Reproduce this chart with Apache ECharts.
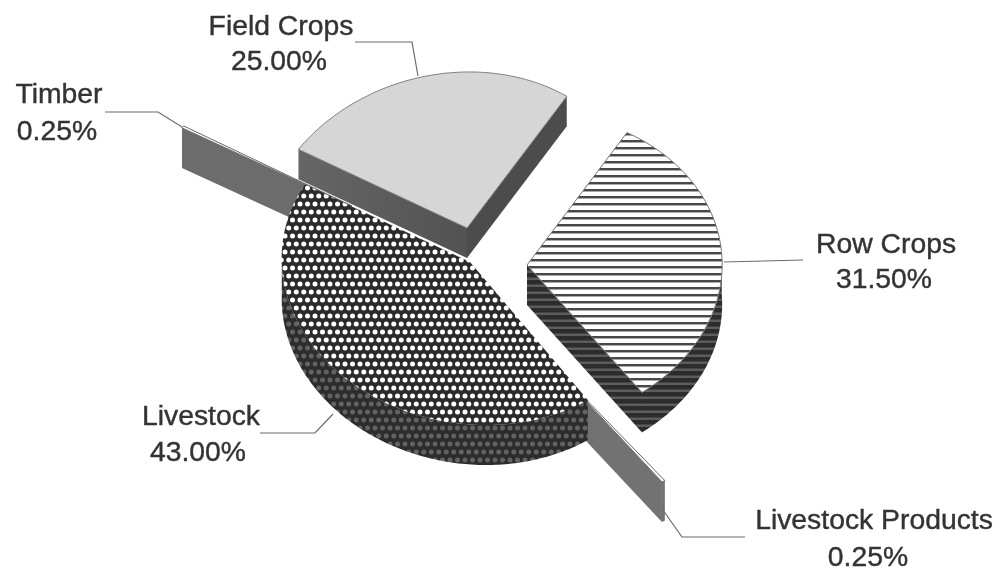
<!DOCTYPE html>
<html>
<head>
<meta charset="utf-8">
<style>html,body{margin:0;padding:0;background:#fff}#c{width:1002px;height:574px}</style>
<script src="https://cdn.jsdelivr.net/npm/echarts@6/dist/echarts.min.js"></script>
</head>
<body>
<div id="c"></div>
<script>
// ---- data ----
const categories = ['Field Crops', 'Timber', 'Livestock', 'Livestock Products', 'Row Crops'];
const shares = [25.00, 0.25, 43.00, 0.25, 31.50];

// ---- presentation ----
const START_ANGLE = 57;
const drawOrder = ['Timber', 'Livestock Products', 'Livestock', 'Field Crops', 'Row Crops'];

function tile(w, h, paint) {
  const cv = document.createElement('canvas');
  cv.width = w; cv.height = h;
  paint(cv.getContext('2d'));
  return { image: cv, repeat: 'repeat' };
}
function dots(bg, fg, r) {
  return tile(15, 16, g => {
    g.fillStyle = bg; g.fillRect(0, 0, 15, 16);
    g.fillStyle = fg;
    [[3.75, 4], [11.25, 4], [0, 12], [7.5, 12], [15, 12]].forEach(p => {
      g.beginPath(); g.arc(p[0], p[1], r, 0, Math.PI * 2); g.fill();
    });
  });
}
function stripes(bg, fg, mid, t) {
  return tile(4, 7, g => {
    g.fillStyle = bg; g.fillRect(0, 0, 4, 7);
    g.fillStyle = fg; g.fillRect(0, 0, 4, t);
    g.fillStyle = mid; g.fillRect(0, t, 4, 1);
  });
}
const wallGrad = (c0, c1) => ({ type: 'linear', x: 0, y: 0, x2: 1, y2: 0,
  colorStops: [{ offset: 0, color: c0 }, { offset: 1, color: c1 }] });
const look = {
  'Field Crops': { apex: [467, 228], c: [451, 235], m: [191, 14, -3.7, 163], depth: 30,
    top: '#d6d6d6', stroke: '#808080', startWall: '#4c4c4c',
    endWall: wallGrad('#666666', '#525252'), arcWall: '#555' },
  'Timber': { apex: [352, 206], c: [352, 206], m: [200.7, 0, 0, 147], depth: 40,
    top: '#fff', stroke: '#666', startWall: '#6c6c6c', endWall: '#6c6c6c', arcWall: '#6c6c6c' },
  'Livestock': { apex: [470, 262], c: [474, 268], m: [192, -12, 0, 157], depth: 40,
    top: dots('#2b2b2b', '#ffffff', 2.5), stroke: null,
    startWall: '#333', endWall: '#333', arcWall: dots('#2c2c2c', '#636363', 2.5) },
  'Livestock Products': { apex: [542, 354], c: [542, 354], m: [222, 0, 0, 152], depth: 40,
    top: '#fff', stroke: '#666', startWall: '#727272', endWall: '#727272', arcWall: '#727272' },
  'Row Crops': { apex: [527, 265], c: [528, 269], m: [194, -8, -11, 155.5], depth: 40,
    top: stripes('#ffffff', '#484848', '#aaaaaa', 2), stroke: '#777',
    startWall: stripes('#5c5c5c', '#2c2c2c', '#444444', 4), endWall: '#333',
    arcWall: stripes('#5c5c5c', '#2c2c2c', '#444444', 4) }
};
const labelAt = {
  'Field Crops': [[281, 27], [279, 62]],
  'Timber': [[59, 95], [57, 132]],
  'Livestock': [[201, 417], [198, 453]],
  'Livestock Products': [[874, 521], [868, 558]],
  'Row Crops': [[886, 245], [884, 280]]
};
const leaders = {
  'Field Crops': [[355, 42], [412, 42], [418, 76]],
  'Timber': [[105, 112], [158, 112], [182, 127]],
  'Livestock': [[260, 433], [315, 433], [333, 414]],
  'Livestock Products': [[663, 510], [682, 537], [745, 537]],
  'Row Crops': [[724, 262], [803, 260]]
};

// ---- slice angles from the values ----
const spans = {};
shares.reduce((from, s, i) => {
  const sweep = s / 100 * 360;
  spans[categories[i]] = [from, from + sweep];
  return from + sweep;
}, START_ANGLE);

function rim(l, deg) {
  const t = deg * Math.PI / 180, co = Math.cos(t), si = Math.sin(t);
  return [l.c[0] + l.m[0] * co + l.m[1] * si, l.c[1] + l.m[2] * co - l.m[3] * si];
}
const down = (p, d) => [p[0], p[1] + d];

function sliceShapes(name) {
  const l = look[name], [a, b] = spans[name], d = l.depth, out = [];
  const poly = (points, fill, extra) => out.push({
    type: 'polygon', shape: { points },
    style: Object.assign({ fill }, extra || {}), silent: true
  });
  const pa = rim(l, a), pb = rim(l, b);
  const wall = (p, fill) => poly([l.apex, p, down(p, d), down(l.apex, d)], fill, { stroke: null });
  const near = [];
  const n = Math.max(2, Math.ceil(b - a));
  for (let i = 0; i <= n; i++) {
    const deg = a + (b - a) * i / n;
    if (Math.sin(deg * Math.PI / 180) <= 0.03) near.push(rim(l, deg));
  }
  if (near.length > 1) poly(near.concat(near.map(p => down(p, d)).reverse()), l.arcWall);
  if (Math.cos(a * Math.PI / 180) > 0) wall(pa, l.startWall);
  if (Math.cos(b * Math.PI / 180) < 0) wall(pb, l.endWall);
  const face = [l.apex];
  for (let i = 0; i <= n; i++) face.push(rim(l, a + (b - a) * i / n));
  poly(face, l.top, l.stroke ? { stroke: l.stroke, lineWidth: 1 } : {});
  return out;
}

const chart = echarts.init(document.getElementById('c'), null, { renderer: 'canvas' });
chart.setOption({
  backgroundColor: '#ffffff',
  animation: false,
  series: [
    {
      type: 'custom',
      coordinateSystem: 'none',
      silent: true,
      data: drawOrder.map(name => ({ name, value: shares[categories.indexOf(name)] })),
      renderItem(params) {
        return { type: 'group', children: sliceShapes(drawOrder[params.dataIndex]) };
      }
    },
    {
      type: 'custom',
      coordinateSystem: 'none',
      silent: true,
      data: categories.map((name, i) => ({ name, value: shares[i] })),
      renderItem(params, api) {
        const name = categories[params.dataIndex];
        const lines = [name, api.value(0).toFixed(2) + '%'];
        const kids = [{
          type: 'polyline', shape: { points: leaders[name] },
          style: { fill: null, stroke: '#6a6a6a', lineWidth: 1.2 }
        }];
        lines.forEach((text, i) => kids.push({
          type: 'text', x: labelAt[name][i][0], y: labelAt[name][i][1], scaleX: 1.03,
          style: {
            text, fill: '#333333', stroke: '#333333', lineWidth: 0.4,
            align: 'center', verticalAlign: 'middle',
            fontFamily: '"Liberation Sans", Arial, sans-serif', fontSize: 27.5
          }
        }));
        return { type: 'group', children: kids };
      }
    }
  ]
});
</script>
</body>
</html>
